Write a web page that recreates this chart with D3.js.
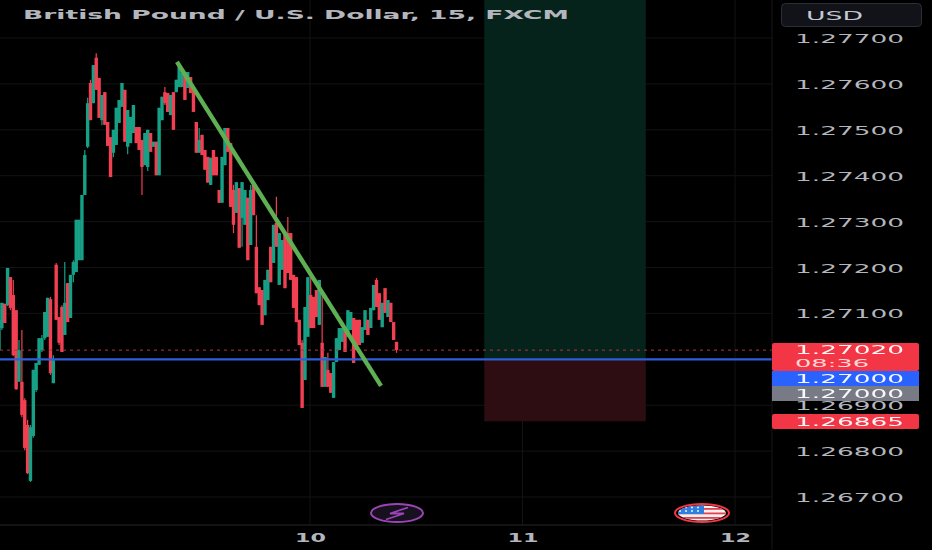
<!DOCTYPE html>
<html><head><meta charset="utf-8">
<script src="https://cdn.jsdelivr.net/npm/d3@7"></script>
<style>html,body{margin:0;padding:0;background:#000;overflow:hidden}svg{display:block}text{font-family:"DejaVu Sans",sans-serif}</style>
</head><body><svg id="c" width="932" height="550"></svg>
<script>
const title = "British Pound / U.S. Dollar, 15, FXCM";
const priceTicks = [1.277,1.276,1.275,1.274,1.273,1.272,1.271,1.269,1.268,1.267];
const gridPrices = [1.277,1.276,1.275,1.274,1.273,1.272,1.271,1.27,1.269,1.268,1.267];
const dayTicks = [10,11,12];
const opens = [1.2702,1.27068,1.27121,1.27118,1.27179,1.2714,1.27107,1.26951,1.26951,1.26911,
1.26857,1.26735,1.26833,1.26933,1.26988,1.2702,1.27046,1.27049,1.27131,1.26948,
1.27206,1.27092,1.27114,1.27053,1.27166,1.2709,1.27184,1.2719,1.27216,1.27216,
1.27358,1.27463,1.27602,1.27558,1.27657,1.27613,1.27521,1.27582,1.27517,1.27484,
1.2745,1.27467,1.27515,1.2755,1.27587,1.27463,1.27471,1.27493,1.27506,1.27506,
1.27478,1.27423,1.27419,1.27493,1.27463,1.27474,1.27401,1.27521,1.27582,1.2758,
1.27532,1.27582,1.27582,1.27593,1.27593,1.27624,1.27591,1.27615,1.27593,1.27517,
1.2745,1.27489,1.27456,1.27441,1.2738,1.27456,1.27441,1.27369,1.27341,1.27423,
1.27504,1.27471,1.27369,1.27319,1.27373,1.27308,1.27293,1.27352,1.27249,1.2738,
1.27245,1.27157,1.27151,1.27096,1.27129,1.27245,1.2721,1.27297,1.27162,1.27195,
1.27275,1.27275,1.27275,1.27184,1.27179,1.27086,1.27036,1.26955,1.27049,1.2714,
1.27136,1.27151,1.27075,1.27036,1.2694,1.26977,1.2697,1.26916,1.26994,1.2702,
1.27038,1.27068,1.27049,1.27064,1.2709,1.27086,1.27086,1.27036,1.27064,1.27086,
1.27068,1.27107,1.27173,1.27144,1.2707,1.27155,1.27092,1.27123,1.27081,1.27038];
const highs = [1.27086,1.27123,1.27121,1.27199,1.27179,1.27173,1.27107,1.27042,1.27064,1.26915,
1.26868,1.26857,1.26977,1.26992,1.27046,1.27053,1.27103,1.27134,1.27136,1.27009,
1.2721,1.27092,1.27118,1.27212,1.27166,1.27184,1.27216,1.27304,1.27304,1.27358,
1.27456,1.2757,1.27609,1.27641,1.27667,1.27613,1.27576,1.27582,1.27517,1.27484,
1.275,1.27548,1.27565,1.27602,1.27587,1.27543,1.27528,1.27554,1.27506,1.27506,
1.27478,1.27493,1.275,1.27493,1.27474,1.27474,1.27548,1.27572,1.27593,1.2758,
1.27576,1.27582,1.27609,1.27637,1.27624,1.27624,1.27626,1.27615,1.27593,1.27517,
1.27504,1.27489,1.27456,1.27441,1.27439,1.27456,1.27441,1.27369,1.27441,1.27504,
1.27504,1.27471,1.2738,1.27386,1.27373,1.27386,1.27369,1.27352,1.2738,1.2738,
1.27314,1.27157,1.27151,1.27173,1.27195,1.27245,1.27293,1.27354,1.27275,1.2726,
1.27275,1.2731,1.27275,1.27184,1.27179,1.27086,1.27042,1.27114,1.27179,1.27188,
1.27136,1.27151,1.27173,1.27151,1.27005,1.27014,1.2697,1.26994,1.27046,1.27068,
1.27068,1.27068,1.27107,1.27103,1.2709,1.27086,1.27086,1.2707,1.27107,1.27086,
1.27112,1.27162,1.27177,1.27144,1.27123,1.27155,1.27129,1.27123,1.27081,1.27038];
const lows = [1.27016,1.27064,1.27079,1.27116,1.27107,1.27007,1.26933,1.26951,1.26874,1.26802,
1.2675,1.26733,1.26829,1.26929,1.26988,1.27016,1.27042,1.27049,1.26966,1.26948,
1.27086,1.27031,1.27016,1.27053,1.27081,1.2709,1.27168,1.2719,1.27216,1.27216,
1.27358,1.2746,1.27521,1.27558,1.27587,1.27526,1.2751,1.27511,1.27465,1.27397,
1.2744,1.27467,1.27515,1.2755,1.27474,1.27447,1.27471,1.27493,1.27471,1.27456,
1.27358,1.27423,1.2741,1.27452,1.27463,1.27401,1.27401,1.27521,1.27554,1.27539,
1.27532,1.275,1.27582,1.27593,1.27593,1.27565,1.27591,1.2758,1.27539,1.2745,
1.2745,1.27445,1.27413,1.27385,1.2738,1.27401,1.27401,1.27341,1.27341,1.27423,
1.27452,1.27332,1.27275,1.27319,1.27243,1.27245,1.27293,1.27216,1.27249,1.27314,
1.27144,1.27118,1.27075,1.27096,1.27129,1.27168,1.2721,1.27245,1.27162,1.27195,
1.27155,1.27188,1.27173,1.27112,1.27081,1.27031,1.26894,1.26955,1.27049,1.27068,
1.27068,1.27092,1.27075,1.2694,1.2694,1.2694,1.26927,1.26916,1.26994,1.2702,
1.27038,1.27016,1.27049,1.27064,1.26992,1.2702,1.27031,1.27036,1.27064,1.27053,
1.27068,1.27107,1.27114,1.27086,1.2707,1.27101,1.27092,1.27081,1.27042,1.27014];
const closes = [1.27086,1.27123,1.27079,1.27199,1.27112,1.27009,1.26935,1.2702,1.26879,1.26807,
1.26752,1.26852,1.26977,1.26992,1.27046,1.27046,1.27103,1.27134,1.2697,1.26998,
1.27086,1.27036,1.27016,1.27123,1.27081,1.27184,1.27212,1.27304,1.27304,1.27358,
1.27445,1.27558,1.27521,1.27641,1.27587,1.27526,1.27576,1.27511,1.27465,1.27397,
1.275,1.27548,1.27565,1.27602,1.27474,1.27543,1.27528,1.27554,1.27471,1.27456,
1.27419,1.27493,1.275,1.27452,1.27474,1.27401,1.27548,1.27572,1.27558,1.27539,
1.27576,1.275,1.27609,1.27637,1.27624,1.27565,1.27626,1.2758,1.27539,1.2745,
1.27478,1.27445,1.27413,1.27385,1.27439,1.27401,1.27401,1.27341,1.27441,1.27504,
1.27452,1.27332,1.27293,1.27386,1.27243,1.27386,1.27369,1.27216,1.27369,1.27314,
1.27144,1.27118,1.27075,1.27173,1.27195,1.27168,1.27293,1.27245,1.27275,1.2726,
1.27155,1.27188,1.27173,1.27112,1.27081,1.27031,1.26894,1.27114,1.27179,1.27068,
1.27068,1.27092,1.27173,1.2694,1.27005,1.2694,1.26927,1.26994,1.27046,1.27068,
1.27068,1.27016,1.27107,1.27103,1.26992,1.2702,1.27031,1.2707,1.27107,1.27053,
1.27112,1.27162,1.27114,1.27086,1.27123,1.27101,1.27129,1.27081,1.27042,1.2702];
const trendPrices = [1.27648,1.26942];
const lastPrice = 1.2702, entryPrice = 1.27, stopPrice = 1.26865;
const targetTop = 1.27785;
const priceLabels = [
 {text:"1.27020",sub:"08:36",price:1.2702,color:"#f23645"},
 {text:"1.27000",price:1.27,color:"#2962ff"},
 {text:"1.27000",price:1.27,color:"#787b86"},
 {text:"1.26865",price:1.26865,color:"#f23645"}];

const svg = d3.select("#c");
const W = 772, H = 525;
const y = d3.scaleLinear().domain([1.267,1.277]).range([497,38]);
const days = d3.scaleLinear().domain([10,12]).range([310,735]);
const xBar = d3.scaleLinear().domain([0,opens.length-1]).range([-1,396.5]);
const xTrend = d3.scaleLinear().domain([0,1]).range([177,381]);
const UP="#14a085", DOWN="#f23f52";

svg.append("rect").attr("width",932).attr("height",550).attr("fill","#000");
const defs = svg.append("defs");
defs.append("clipPath").attr("id","plot").append("rect").attr("width",W).attr("height",H);
defs.append("filter").attr("id","soft").attr("x","-5%").attr("y","-5%").attr("width","110%").attr("height","110%")
 .append("feGaussianBlur").attr("stdDeviation",0.45);

// grid
svg.append("g").selectAll("line").data(gridPrices).join("line")
 .attr("x1",0).attr("x2",W).attr("y1",d=>y(d)).attr("y2",d=>y(d)).attr("stroke","#131313");
svg.append("g").selectAll("line").data(dayTicks).join("line")
 .attr("y1",0).attr("y2",H).attr("x1",d=>days(d)).attr("x2",d=>days(d)).attr("stroke","#131313");

// long position zones
const zoneX0 = days(10.82), zoneX1 = days(11.58);
svg.append("rect").attr("x",zoneX0).attr("width",zoneX1-zoneX0).attr("y",y(targetTop)).attr("height",y(entryPrice)-y(targetTop)).attr("fill","#05221b");
svg.append("rect").attr("x",zoneX0).attr("width",zoneX1-zoneX0).attr("y",y(entryPrice)).attr("height",y(stopPrice)-y(entryPrice)).attr("fill","#2d0d12");

// candles
const bars = opens.map((o,i)=>({i,o,h:highs[i],l:lows[i],c:closes[i]}));
const gc = svg.append("g").attr("clip-path","url(#plot)").attr("filter","url(#soft)");
gc.selectAll("line.w").data(bars).join("line").attr("class","w")
 .attr("x1",d=>xBar(d.i)).attr("x2",d=>xBar(d.i)).attr("y1",d=>y(d.h)).attr("y2",d=>y(d.l))
 .attr("stroke",d=>d.c>=d.o?UP:DOWN).attr("stroke-width",1.2);
gc.selectAll("rect.b").data(bars).join("rect").attr("class","b")
 .attr("x",d=>xBar(d.i)-1.7).attr("width",3.4)
 .attr("y",d=>Math.min(y(d.o),y(d.c))).attr("height",d=>Math.max(1,Math.abs(y(d.o)-y(d.c))))
 .attr("fill",d=>d.c>=d.o?UP:DOWN);

// price lines
svg.append("line").attr("x1",0).attr("x2",W).attr("y1",y(lastPrice)).attr("y2",y(lastPrice))
 .attr("stroke","#a83640").attr("stroke-dasharray","3 4").attr("stroke-width",1);
svg.append("line").attr("x1",0).attr("x2",W).attr("y1",y(entryPrice)).attr("y2",y(entryPrice))
 .attr("stroke","#2f5fd8").attr("stroke-width",2.2);

// trend line
svg.append("line").attr("x1",xTrend(0)).attr("x2",xTrend(1)).attr("y1",y(trendPrices[0])).attr("y2",y(trendPrices[1]))
 .attr("stroke","#5fb053").attr("stroke-width",4.4);

// axes lines
svg.append("line").attr("x1",0).attr("x2",W).attr("y1",H).attr("y2",H).attr("stroke","#262626");
svg.append("line").attr("x1",W).attr("x2",W).attr("y1",0).attr("y2",550).attr("stroke","#161616");

// price axis
const axisR = d3.axisRight(y).tickValues(priceTicks).tickSize(0).tickFormat(d3.format(".5f"));
const ga = svg.append("g").attr("transform","translate(795,0)").call(axisR);
ga.select(".domain").remove();
ga.selectAll("text").attr("x",0).attr("dy","0.36em").attr("fill","#b4b6bd").attr("font-size",12.5)
 .attr("textLength",109).attr("lengthAdjust","spacingAndGlyphs");

// day axis
const axisB = d3.axisBottom(days).tickValues(dayTicks).tickSize(0).tickFormat(d3.format("d"));
const gb = svg.append("g").attr("transform","translate(0,537)").call(axisB);
gb.select(".domain").remove();
gb.selectAll("text").attr("y",0).attr("dy","0.36em").attr("fill","#b4b6bd").attr("font-size",12.5).attr("font-weight","bold")
 .attr("textLength",31).attr("lengthAdjust","spacingAndGlyphs");

// title
svg.append("text").attr("x",23).attr("y",19).text(title).attr("fill","#b4b6bd").attr("font-size",13).attr("font-weight","bold")
 .attr("textLength",546).attr("lengthAdjust","spacingAndGlyphs");

// USD button
svg.append("rect").attr("x",781.5).attr("y",3.5).attr("width",140).attr("height",23).attr("rx",4).attr("fill","#111318").attr("stroke","#2a2e39");
svg.append("text").attr("x",806).attr("y",20).text("USD").attr("fill","#c4c8d2").attr("font-size",13)
 .attr("textLength",57).attr("lengthAdjust","spacingAndGlyphs");

// price labels
const boxes = [[343,371],[371,386],[386,401],[414,429]];
priceLabels.forEach((p,i)=>{
  const [t,b]=boxes[i];
  svg.append("rect").attr("x",772).attr("y",t).attr("width",147).attr("height",b-t).attr("rx",i==0||i==3?2:0).attr("fill",p.color);
  const cy = p.sub ? t+7 : (t+b)/2;
  svg.append("text").attr("x",795).attr("y",cy).attr("dy","0.36em").text(p.text).attr("fill","#fff").attr("font-size",12)
   .attr("textLength",109).attr("lengthAdjust","spacingAndGlyphs").attr("opacity",.95);
  if(p.sub) svg.append("text").attr("x",795).attr("y",t+20).attr("dy","0.36em").text(p.sub).attr("fill","#ffd6da").attr("font-size",11)
   .attr("textLength",74).attr("lengthAdjust","spacingAndGlyphs");
});
// icons
svg.append("ellipse").attr("cx",397).attr("cy",513).attr("rx",26).attr("ry",9).attr("fill","#17111f").attr("stroke","#9b45b5").attr("stroke-width",2);
svg.append("path").attr("d","M408,507.5 L390,513.5 L404,513.5 L386,519.5").attr("fill","none").attr("stroke","#9b45b5").attr("stroke-width",1.8);
defs.append("clipPath").attr("id","flag").append("ellipse").attr("cx",702).attr("cy",513).attr("rx",24).attr("ry",7.5);
const fg = svg.append("g").attr("clip-path","url(#flag)");
fg.append("rect").attr("x",675).attr("y",505).attr("width",54).attr("height",16).attr("fill","#f2f2f2");
[508,512.5,517].forEach(s=>fg.append("rect").attr("x",675).attr("y",s).attr("width",54).attr("height",1.8).attr("fill","#e9404e"));
fg.append("rect").attr("x",675).attr("y",505).attr("width",29).attr("height",9).attr("fill","#2f7fe0");
[680,686,692,698].forEach(dx=>[507.5,511].forEach(dy=>fg.append("circle").attr("cx",dx).attr("cy",dy).attr("r",.9).attr("fill","#fff")));
svg.append("ellipse").attr("cx",702).attr("cy",513).attr("rx",27).attr("ry",9).attr("fill","none").attr("stroke","#f23645").attr("stroke-width",2);
</script></body></html>
